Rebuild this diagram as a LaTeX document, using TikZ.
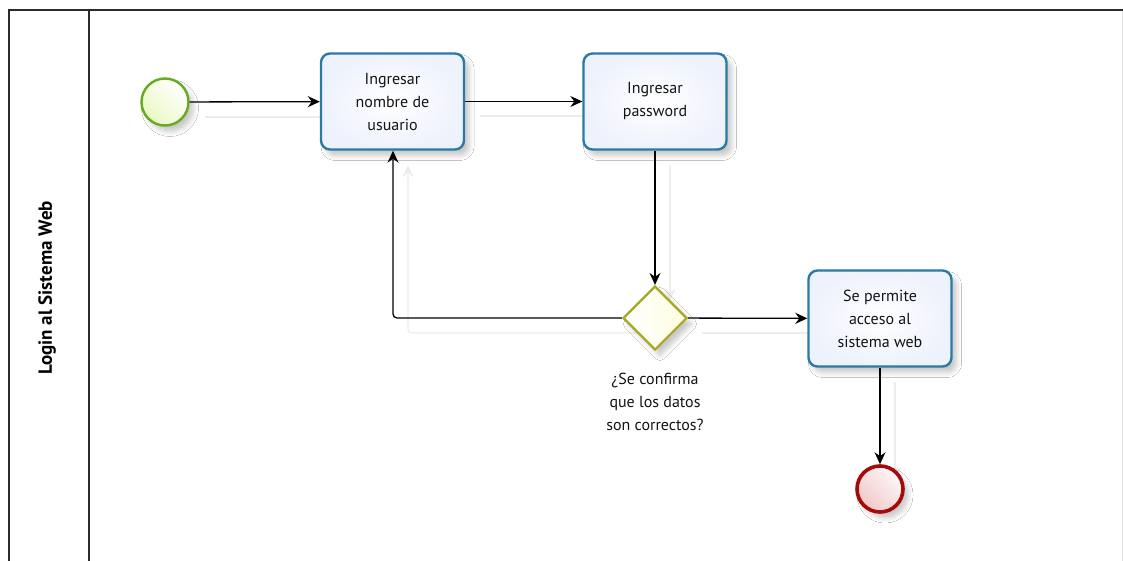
\documentclass[tikz,border=0pt]{standalone}
\usepackage{fontspec}
\setmainfont{PT Sans}
\usetikzlibrary{arrows.meta,shapes.geometric,shadows.blur}
\definecolor{taskline}{HTML}{2A7AA6}
\definecolor{taskfill}{HTML}{EEF2FC}
\definecolor{startline}{HTML}{66AA22}
\definecolor{startfill}{HTML}{EAF8C4}
\definecolor{endline}{HTML}{A50A0A}
\definecolor{endfill}{HTML}{F2C8CA}
\definecolor{gwline}{HTML}{A8A826}
\definecolor{gwfill}{HTML}{FDFDE0}
\definecolor{frame}{HTML}{2B2B2B}
\tikzset{
  shad/.style={blur shadow={shadow xshift=5pt, shadow yshift=-6pt, shadow blur steps=6, shadow opacity=22, shadow blur radius=5pt}},
  taskbox/.style={draw=taskline, line width=2.4pt, rounded corners=9pt, minimum width=143pt, minimum height=96pt,
    inner color=white, outer color=taskfill, shading=radial, align=center, font=\fontsize{16}{23}\selectfont, text=black!92, shad},
  startev/.style={circle, draw=startline, line width=2.4pt, minimum size=47pt, inner sep=0pt,
    shading=axis, left color=white, right color=startfill, shading angle=-45, shad},
  endev/.style={circle, draw=endline, line width=3.6pt, minimum size=46pt, inner sep=0pt,
    shading=axis, left color=white!85!endfill, right color=endfill, shading angle=-45, shad},
  gw/.style={diamond, draw=gwline, line width=2.2pt, minimum width=64pt, minimum height=64pt, inner sep=0pt,
    shading=axis, left color=white, right color=gwfill, shad},
  flow/.style={draw=black, line width=1.3pt, -{Stealth[length=12pt,width=11pt,inset=4pt]}},
  ghost/.style={draw=black!7, line width=1.3pt, -{Stealth[length=12pt,width=11pt,inset=4pt]}},
  lbl/.style={align=center, font=\fontsize{16}{23}\selectfont, text=black!92},
  lane/.style={rotate=90, font=\fontsize{19}{21}\selectfont\bfseries, text=black}
}
\begin{document}
\begin{tikzpicture}[x=1pt,y=-1pt]
\useasboundingbox (0,0) rectangle (1123,561);
\fill[white] (0,0) rectangle (1123,561);
% pool frame
\draw[frame, line width=2pt] (8.5,561) -- (8.5,10.5) -- (1123,10.5);
\draw[frame, line width=2pt] (88.5,10.5) -- (88.5,561);
\draw[black!12, line width=1pt] (1122,11) -- (1122,561);
\node[lane] (lanetitle) at (47,288) {Login al Sistema Web};

% connector shadows
\coordinate (g1a) at (205,117); \coordinate (g1b) at (335,117);
\coordinate (g2a) at (480,116); \coordinate (g2b) at (598,116);
\coordinate (g3a) at (670,165); \coordinate (g3b) at (670,301);
\coordinate (g4a) at (702,333); \coordinate (g4b) at (823,333);
\coordinate (g5a) at (638,333); \coordinate (g5c) at (408,333); \coordinate (g5b) at (408,165);
\coordinate (g6a) at (895,382); \coordinate (g6b) at (895,480);
\draw[ghost] (g1a) -- (g1b);
\draw[ghost] (g2a) -- (g2b);
\draw[ghost] (g3a) -- (g3b);
\draw[ghost] (g4a) -- (g4b);
\draw[ghost, rounded corners=4pt] (g5a) -- (g5c) -- (g5b);
\draw[ghost] (g6a) -- (g6b);

% nodes
\node[startev] (start) at (165,102) {};
\node[taskbox] (t1) at (392.5,101.5) {Ingresar\\nombre de\\usuario};
\node[taskbox] (t2) at (655,101.5) {\raisebox{-3pt}{\parbox{100pt}{\centering Ingresar\\password}}};
\node[gw] (gw) at (655,318) {};
\node[taskbox] (t3) at (880,318.5) {Se permite\\acceso al\\sistema web};
\node[endev] (end) at (880,489) {};
\node[lbl, anchor=north] (gwlabel) at (655,370) {¿Se confirma\\que los datos\\son correctos?};

% flows
\coordinate (bend) at (393,318);
\draw[flow] (start) -- (t1);
\draw[flow] (t1) -- (t2);
\draw[flow] (t2) -- (gw);
\draw[flow] (gw) -- (t3);
\draw[flow, rounded corners=4pt] (gw.west) -- (bend) -- (t1.south -| bend);
\draw[flow] (t3) -- (end);
\end{tikzpicture}
\end{document}
